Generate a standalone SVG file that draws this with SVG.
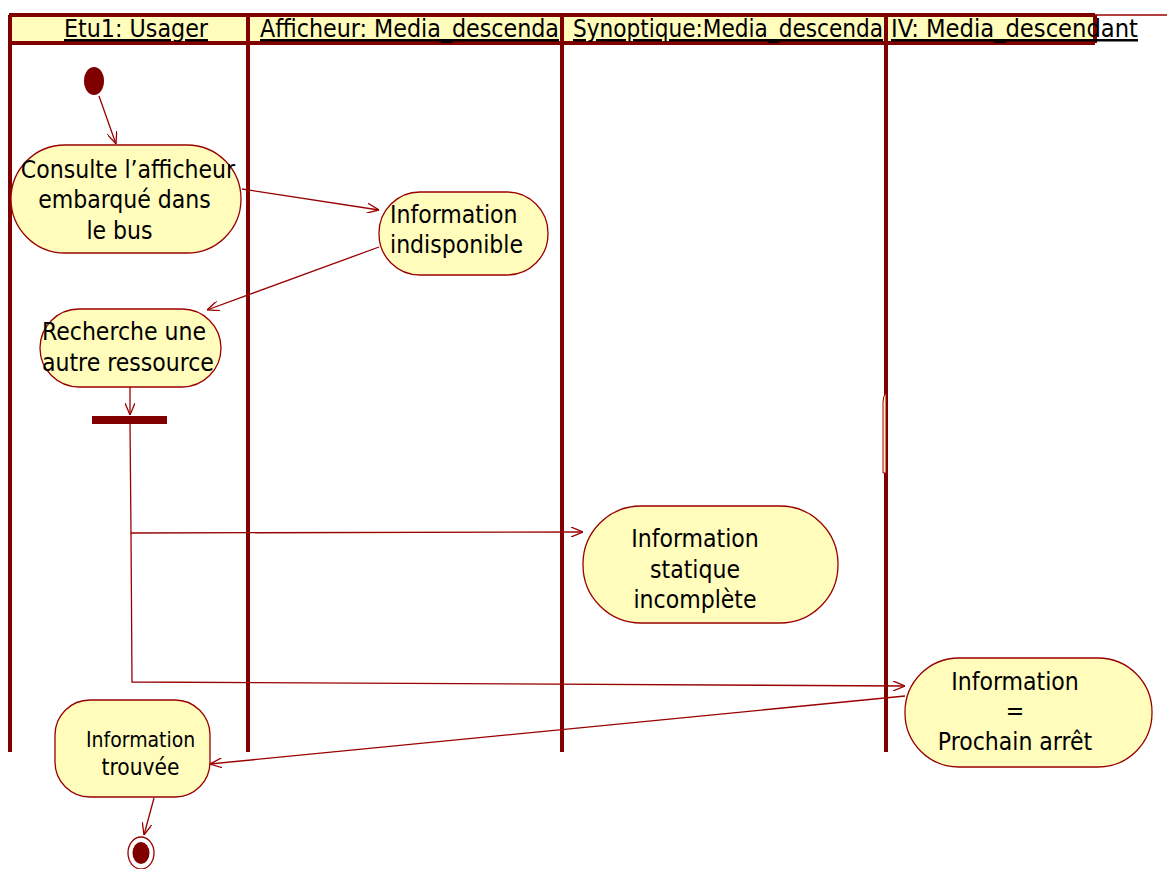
<svg xmlns="http://www.w3.org/2000/svg" width="1167" height="869" viewBox="0 0 1167 869">
<defs>
<style>
.node{fill:#FFFCBC;stroke:#990000;stroke-width:1.3}
.lane{stroke:#800000;stroke-width:4;fill:none}
.conn{fill:none;stroke:#990000;stroke-width:1.3}
.t{font-family:"DejaVu Sans Condensed","DejaVu Sans","Liberation Sans",sans-serif;font-stretch:condensed;font-size:24.5px;fill:#000}
.h{font-family:"DejaVu Sans Condensed","DejaVu Sans","Liberation Sans",sans-serif;font-stretch:condensed;font-size:25px;fill:#000;text-decoration:underline}
</style>
<marker id="arr" viewBox="0 0 12 10" refX="12" refY="5" markerWidth="12" markerHeight="10" orient="auto" markerUnits="userSpaceOnUse">
<path d="M0,0 L12,5 L0,10" fill="none" stroke="#990000" stroke-width="1.3"/>
</marker>
</defs>
<rect width="1167" height="869" fill="#fff"/>

<g id="swimlanes">
<rect x="9" y="15" width="1086" height="28" fill="#FFFCBC"/>
<line x1="1095" y1="15" x2="1167" y2="15" stroke="#990000" stroke-width="1.3"/>
<line class="lane" x1="9" y1="15" x2="1095" y2="15" stroke-width="3"/>
<line class="lane" x1="9" y1="43" x2="1095" y2="43" stroke-width="3"/>
<line class="lane" x1="1095" y1="15" x2="1095" y2="43" stroke-width="3"/>
<line class="lane" x1="10" y1="15" x2="10" y2="752" stroke-width="3"/>
<line class="lane" x1="248" y1="15" x2="248" y2="752"/>
<line class="lane" x1="562" y1="15" x2="562" y2="752"/>
<line class="lane" x1="886" y1="15" x2="886" y2="752"/>
<text class="h" x="64" y="37" textLength="144" lengthAdjust="spacingAndGlyphs">Etu1: Usager</text>
<text class="h" x="260" y="37" textLength="299" lengthAdjust="spacingAndGlyphs">Afficheur: Media_descenda</text>
<text class="h" x="573" y="37" textLength="310" lengthAdjust="spacingAndGlyphs">Synoptique:Media_descenda</text>
<text class="h" x="891" y="37" textLength="247" lengthAdjust="spacingAndGlyphs">IV: Media_descendant</text>
</g>

<g id="connectors">
<path class="conn" d="M99,96 L116,144" marker-end="url(#arr)"/>
<path class="conn" d="M242,189 L379,210" marker-end="url(#arr)"/>
<path class="conn" d="M379,247 L207,310" marker-end="url(#arr)"/>
<path class="conn" d="M130,368 L130,415" marker-end="url(#arr)"/>
<path class="conn" d="M130,424 L131,533 L583,532" marker-end="url(#arr)"/>
<path class="conn" d="M131,533 L132,682 L905,686" marker-end="url(#arr)"/>
<path class="conn" d="M905,696 L210,764" marker-end="url(#arr)"/>
<path class="conn" d="M154,798 L144,835" marker-end="url(#arr)"/>
</g>

<g id="start">
<ellipse cx="94" cy="81" rx="10" ry="14" fill="#800000"/>
</g>

<g id="consulte">
<rect class="node" x="11" y="145" width="230" height="108" rx="54" ry="54"/>
<text class="t" x="128" y="178" text-anchor="middle">Consulte l’afficheur</text>
<text class="t" x="124.5" y="208" text-anchor="middle">embarqué dans</text>
<text class="t" x="119.5" y="239" text-anchor="middle">le bus</text>
</g>

<g id="indisponible">
<rect class="node" x="379" y="192" width="169" height="83" rx="41" ry="41"/>
<text class="t" x="390" y="223">Information</text>
<text class="t" x="390" y="253">indisponible</text>
</g>

<g id="recherche">
<rect class="node" x="40" y="309" width="181" height="78" rx="39" ry="39"/>
<text class="t" x="42" y="340">Recherche une</text>
<text class="t" x="42" y="371">autre ressource</text>
</g>

<g id="fork">
<rect x="92" y="416" width="75" height="8" fill="#800000"/>
</g>

<g id="hidden">
<path d="M886,393 Q883,396 883,402 L883,473 L886,473 Z" fill="#FFFCBC" stroke="#990000" stroke-width="1"/>
</g>

<g id="statique">
<rect class="node" x="583" y="506" width="255" height="117" rx="58" ry="58"/>
<text class="t" x="695" y="547" text-anchor="middle">Information</text>
<text class="t" x="695" y="578" text-anchor="middle">statique</text>
<text class="t" x="695" y="608" text-anchor="middle">incomplète</text>
</g>

<g id="prochain">
<rect class="node" x="905" y="658" width="247" height="109" rx="54" ry="54"/>
<text class="t" x="1015" y="690" text-anchor="middle">Information</text>
<text class="t" x="1015" y="719" text-anchor="middle">=</text>
<text class="t" x="1015" y="750" text-anchor="middle">Prochain arrêt</text>
</g>

<g id="trouvee">
<rect class="node" x="55" y="700" width="155" height="97" rx="35" ry="35"/>
<text class="t" x="86" y="747" style="font-size:21px">Information</text>
<text class="t" x="140.5" y="775" text-anchor="middle" style="font-size:22.5px">trouvée</text>
</g>

<g id="end">
<ellipse cx="141" cy="853" rx="13" ry="16" fill="#fff" stroke="#990000" stroke-width="1.3"/>
<ellipse cx="141" cy="853" rx="8.5" ry="11" fill="#800000"/>
</g>
</svg>
